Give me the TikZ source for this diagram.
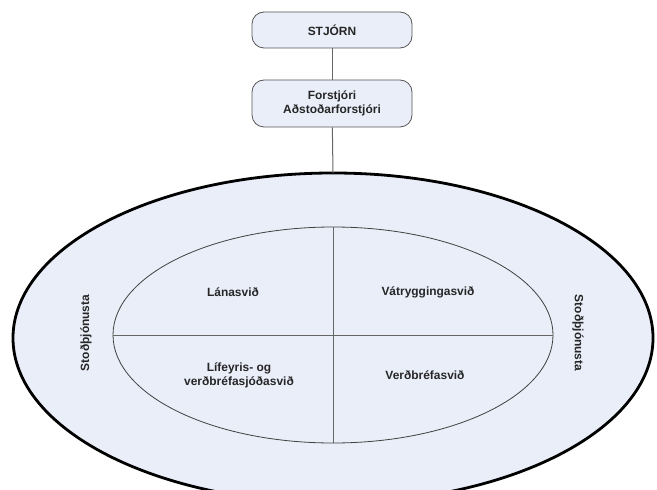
\documentclass[tikz,border=0pt]{standalone}
\usepackage{fontspec}
\setmainfont{Liberation Sans}
\usetikzlibrary{shapes.geometric}
\definecolor{panel}{HTML}{E9EEF9}
\definecolor{rim}{HTML}{555555}
\begin{document}
\begin{tikzpicture}[x=1bp, y=-1bp, every node/.style={font=\fontsize{12}{14}\selectfont\bfseries, text=black!85, align=center}, thick]

\tikzstyle{box}=[draw=rim, fill=panel, rounded corners=12bp, minimum width=160bp, line width=0.8bp]
\tikzstyle{ring}=[draw=black, fill=panel, ellipse, inner sep=0pt, outer sep=0pt, line width=2.8bp]
\tikzstyle{core}=[draw=black!75, ellipse, inner sep=0pt, outer sep=0pt, line width=0.8bp]
\tikzstyle{link}=[draw=black!60, line width=1bp]

\useasboundingbox (0,0) rectangle (657,490);
\clip (0,0) rectangle (657,490);

\node[box, minimum height=36bp] (stjorn) at (332,30) {STJÓRN};
\node[box, minimum height=47bp] (forstj) at (332,103.5) {Forstjóri\\Aðstoðarforstjóri};
\node[ring, minimum width=640bp, minimum height=330bp] (ytri) at (333,338) {};
\node[core, minimum width=440bp, minimum height=216bp] (innri) at (333,335) {};

\draw[link] (stjorn) -- (forstj);
\draw[link] (forstj) -- (ytri.north);
\draw[link] (innri.north) -- (innri.south);
\draw[link] (innri.west) -- (innri.east);

\node (lana) at (233,292) {Lánasvið};
\node (vatr) at (428,292) {Vátryggingasvið};
\node (lifey) at (239,375) {Lífeyris- og\\verðbréfasjóðasvið};
\node (verdb) at (425,375) {Verðbréfasvið};

\node[rotate=90] (stod1) at (86,333) {Stoðþjónusta};
\node[rotate=-90] (stod2) at (578,333) {Stoðþjónusta};
\end{tikzpicture}
\end{document}
